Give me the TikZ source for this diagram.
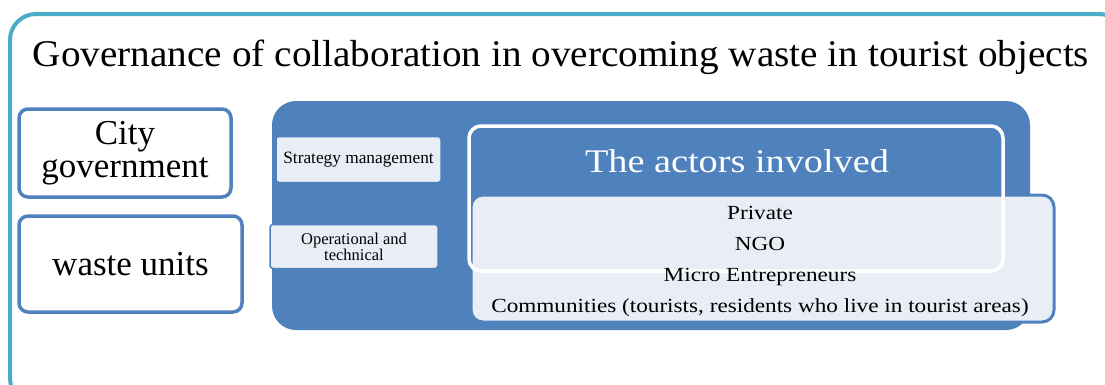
\documentclass[tikz,border=0pt]{standalone}
\usepackage{fontspec}
\setmainfont{Liberation Serif}
\newfontfamily\widefont[FakeStretch=1.16]{Liberation Serif}
\newfontfamily\titlefont[FakeStretch=1.04]{Liberation Serif}
\usepackage{tikz}
\usetikzlibrary{positioning}
\definecolor{framecyan}{HTML}{4BACC6}
\definecolor{boxblue}{HTML}{4F81BD}
\definecolor{paleblue}{HTML}{E9EEF6}
\tikzset{
  sidebox/.style={rectangle, draw=boxblue, line width=3.5pt, fill=white, rounded corners=9pt, align=center, font=\fontsize{35}{33}\selectfont},
  levelbox/.style={rectangle, draw=boxblue, line width=1.5pt, fill=paleblue, rounded corners=3pt, align=center, inner sep=2pt}}

\begin{document}
\begin{tikzpicture}[
		x=1pt, y=-1pt,
		panel/.style={
			rectangle,
			fill=boxblue,
			rounded corners=24pt
		},
		actorbox/.style={
			rectangle,
			draw=white,
			line width=3.5pt,
			rounded corners=12pt
		},
		listbox/.style={
			rectangle,
			draw=boxblue,
			line width=3pt,
			fill=paleblue,
			rounded corners=12pt
		}
		]
		
		\useasboundingbox (0,0) rectangle (1105,384);
		\clip (0,0) rectangle (1105,384);
		
		% outer frame, runs past the page on the right and bottom
		\draw[framecyan, line width=4pt, rounded corners=26pt] (10,14) rectangle (1125,404);
		\node[font=\titlefont\fontsize{37.7}{40}\selectfont] (title) at (561,57) {Governance of collaboration in overcoming waste in tourist objects};
		
		\node[sidebox, minimum width=212pt, minimum height=88pt] (city) at (125,153) {City\\government};
		\node[sidebox, minimum width=223pt, minimum height=96pt] (waste) at (130.5,264) {waste units};
		
		\node[panel, minimum width=758pt, minimum height=229pt] (panel) at (651,215.5) {};
		\node[levelbox, minimum width=165pt, minimum height=46pt, font=\fontsize{17.3}{18}\selectfont] (strategy) at (358.5,159.5) {Strategy management};
		\node[levelbox, minimum width=168pt, minimum height=44pt, font=\fontsize{16.5}{16}\selectfont] (oper) at (354,246.5) {Operational and\\technical};
		
		\node[listbox, minimum width=583pt, minimum height=127pt] (list) at (762.5,258.5) {};
		% white outline lies over the list box, under its text
		\node[actorbox, minimum width=534pt, minimum height=145pt] (actors) at (736,198.5) {};
		\node[text=white, font=\widefont\fontsize{33}{36}\selectfont] (actorstitle) at (737,161) {The actors involved};
		\node[font=\widefont\fontsize{20}{31}\selectfont, align=center] (members) at (760,261)
		{Private\\NGO\\Micro Entrepreneurs\\Communities (tourists, residents who live in tourist areas)};
		
	\end{tikzpicture}
\end{document}
